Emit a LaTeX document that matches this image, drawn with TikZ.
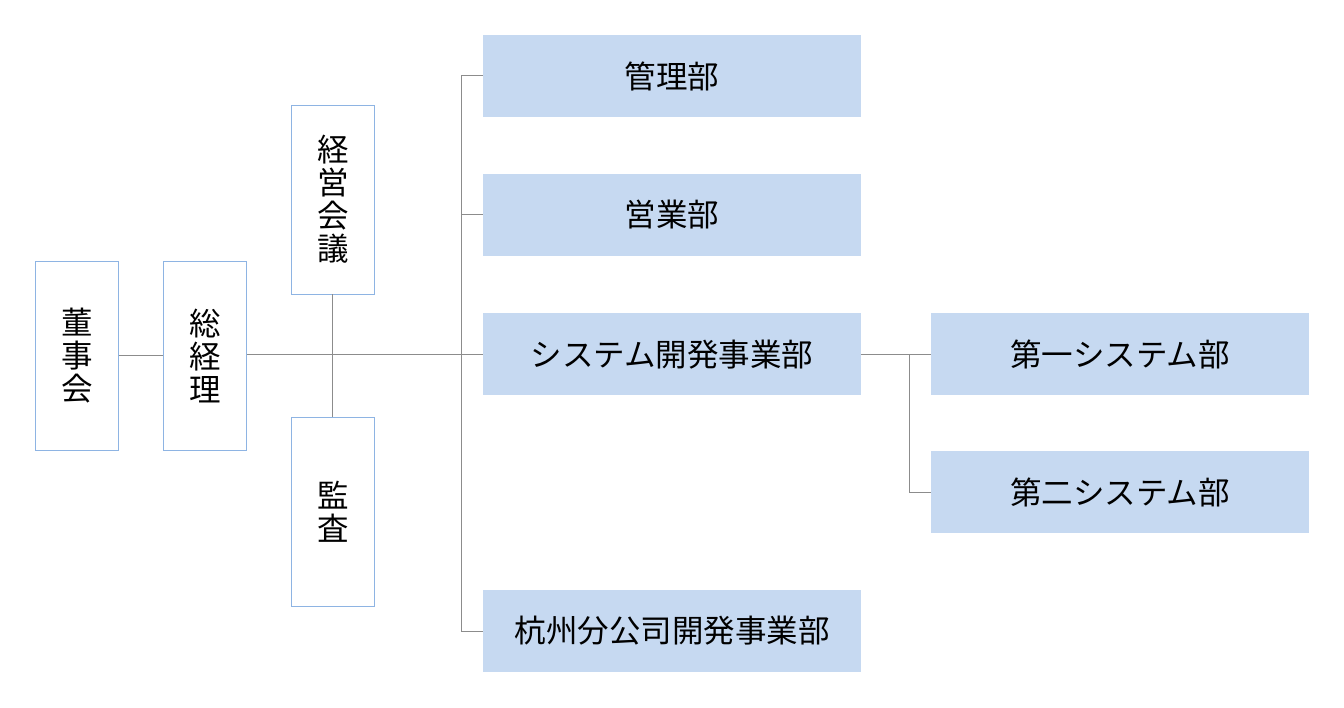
\documentclass[tikz,border=0pt]{standalone}
\usepackage{fontspec}
\setmainfont{Noto Sans CJK JP}
\begin{document}
\begin{tikzpicture}[x=1pt,y=-1pt,
    post/.style={draw=postblue,fill=white,line width=0.8pt,minimum width=83pt,minimum height=189pt,align=center,inner sep=0pt},
    dept/.style={fill=deptblue,minimum width=378pt,minimum height=82pt,inner sep=0pt},
    link/.style={draw=linkgray,line width=1pt}]
  \definecolor{postblue}{HTML}{8EB4E3}
  \definecolor{deptblue}{HTML}{C6D9F1}
  \definecolor{linkgray}{HTML}{8C8C8C}
  \useasboundingbox (0,0) rectangle (1344,708);
  {\fontsize{31.5}{33}\selectfont
    \node (board)     at (76.8,355.5)  [post] {董\\事\\会};
    \node (president) at (205,355.5)   [post] {総\\経\\理};
    \node (council)   at (332.8,199.5) [post] {経\\営\\会\\議};
    \node (audit)     at (332.8,511.5) [post] {監\\査};

    \node (admin)     at (672,76)    [dept] {管理部};
    \node (sales)     at (672,215)   [dept] {営業部};
    \node (sysdev)    at (672,354.5) [dept] {システム開発事業部};
    \node (hangzhou)  at (672,631)   [dept] {杭州分公司開発事業部};

    \node (sys1)      at (1120,354.5) [dept] {第一システム部};
    \node (sys2)      at (1120,492)   [dept] {第二システム部};
  }
  \coordinate (trunk) at (461,354.5);
  \coordinate (fork)  at (909,354.5);

  \draw[link] (board) -- (president);
  \draw[link] (president.east |- sysdev.west) -- (sysdev.west);
  \draw[link] (council) -- (audit);
  \draw[link] (admin.west) -| (trunk |- hangzhou.west) -- (hangzhou.west);
  \draw[link] (trunk |- sales.west) -- (sales.west);
  \draw[link] (sysdev.east) -- (sys1.west);
  \draw[link] (fork) |- (sys2.west);
\end{tikzpicture}
\end{document}
